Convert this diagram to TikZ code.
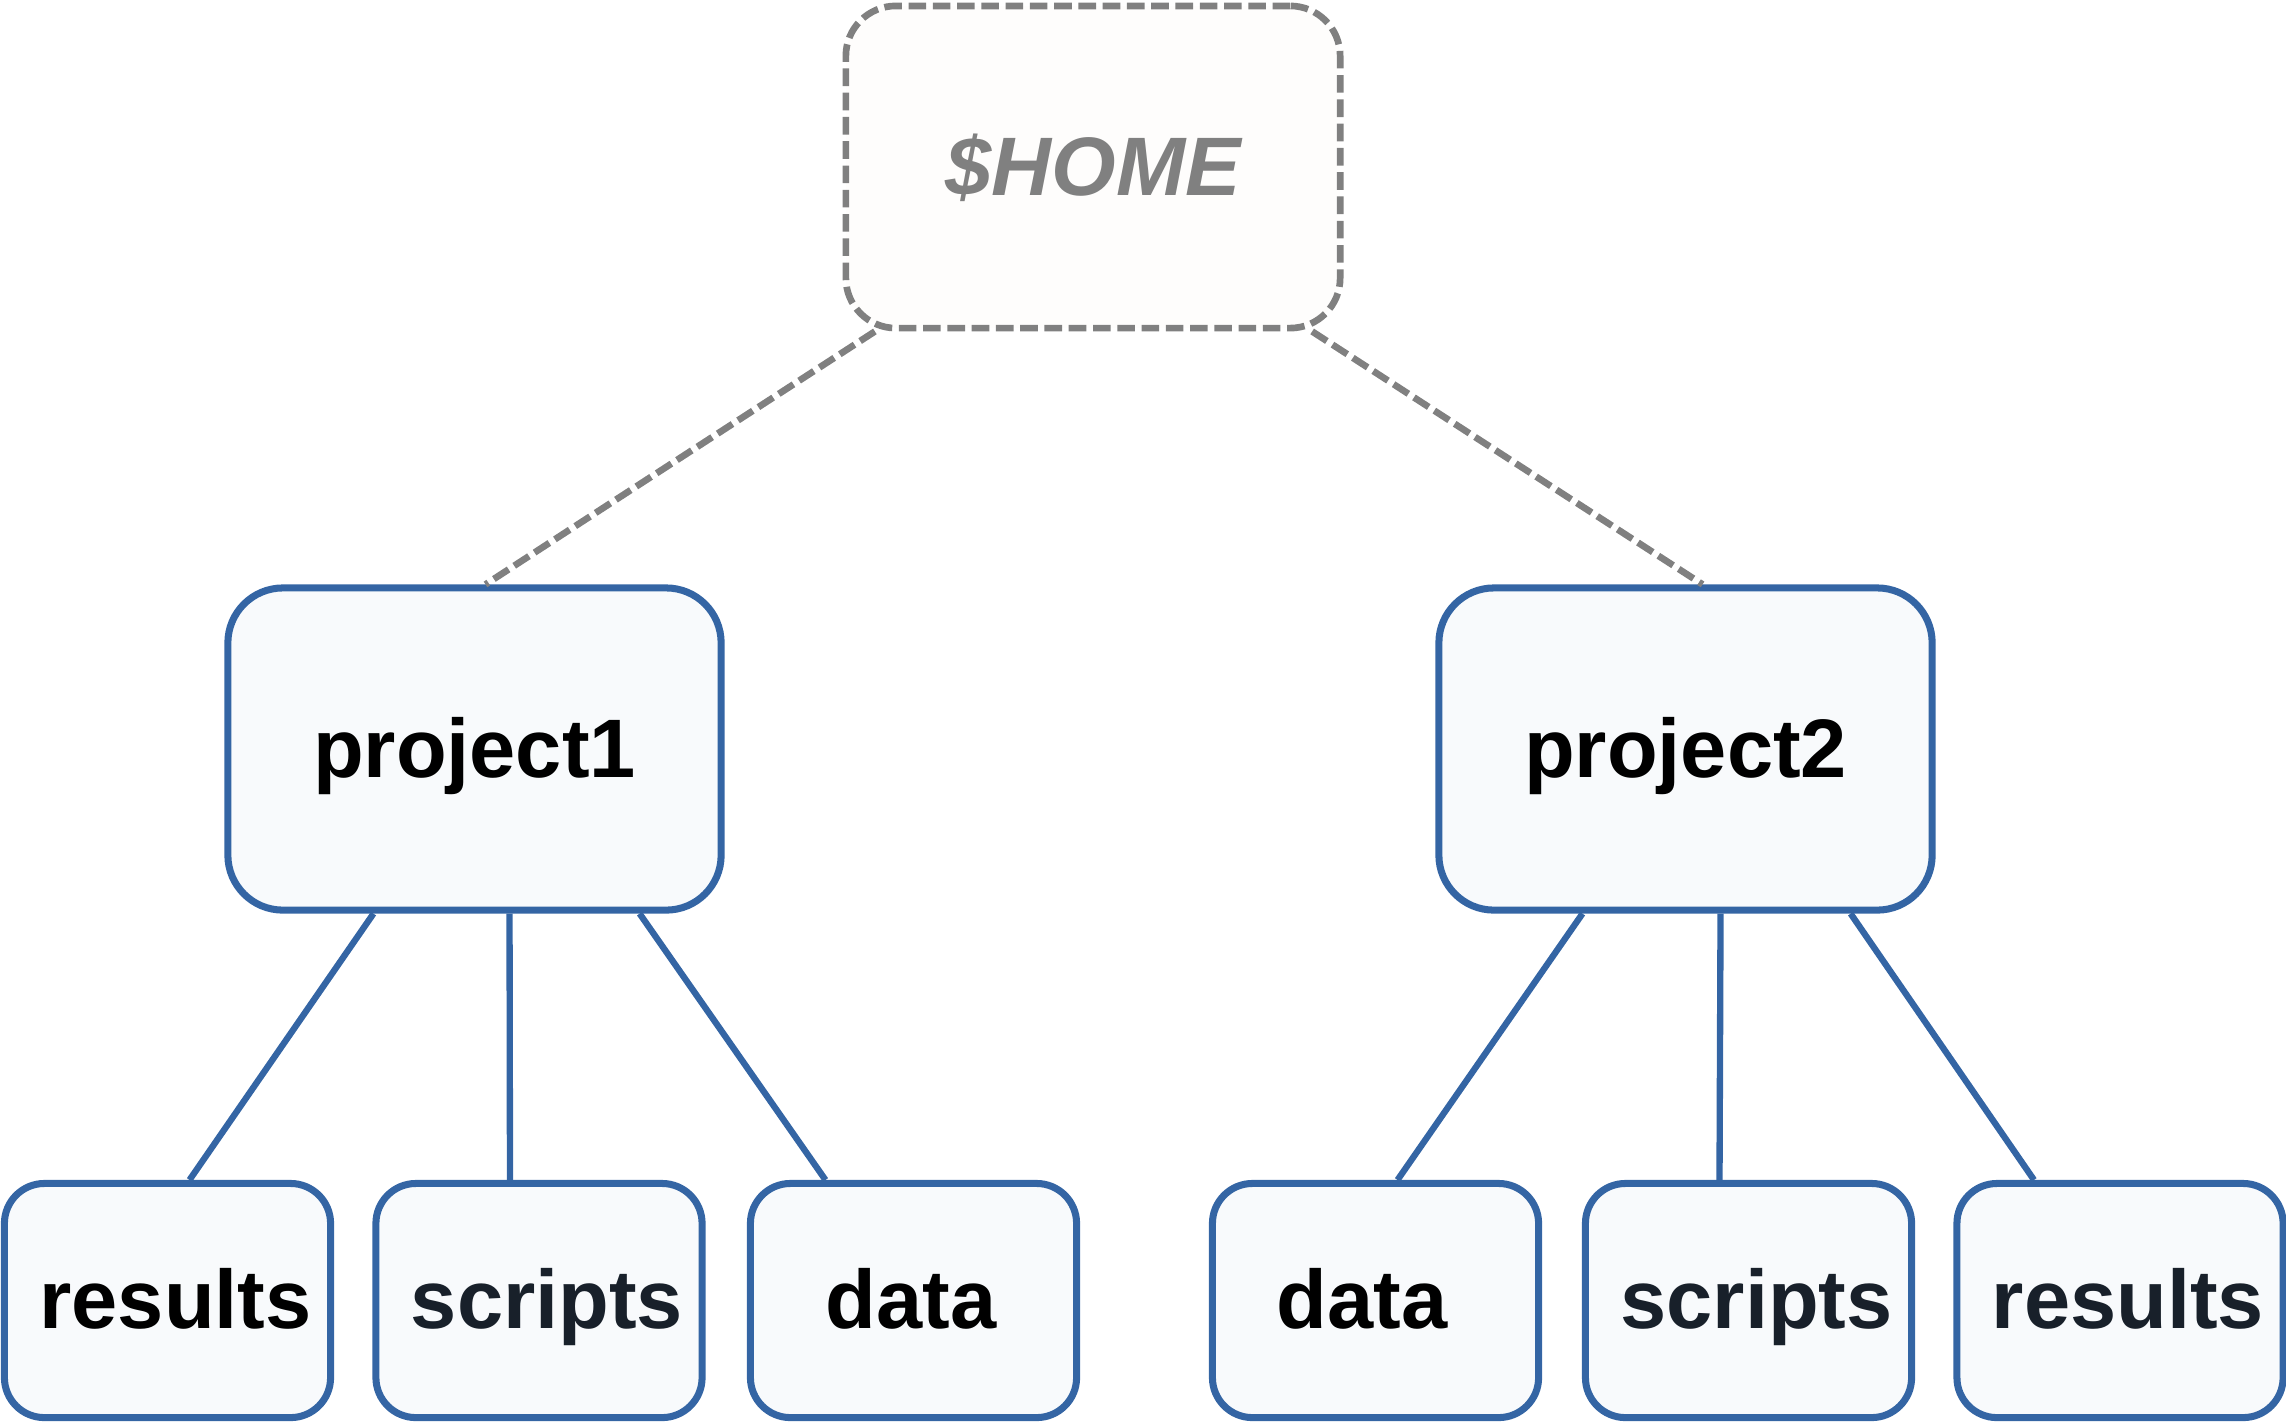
\documentclass[tikz,border=0pt]{standalone}
\usepackage{fontspec}
\setmainfont{Liberation Sans}
\definecolor{dirblue}{HTML}{3465A4}
\definecolor{dirfill}{HTML}{F8FAFC}
\definecolor{homegray}{HTML}{808080}
\definecolor{homefill}{HTML}{FEFDFC}
\definecolor{inkdark}{HTML}{18202A}

\begin{document}
\begin{tikzpicture}[x=0.01cm,y=-0.01cm,
  dirtext/.style={font=\fontsize{23.6}{28}\selectfont\bfseries,
                  text height=0.56cm,text depth=0pt,inner sep=0pt},
  homebox/.style={dirtext,rectangle,draw=homegray,fill=homefill,text=homegray,
                  line width=1.9pt,dash pattern=on 5pt off 1.9pt,
                  rounded corners=0.5cm,minimum width=4.94cm,minimum height=3.22cm,
                  font=\fontsize{23.6}{28}\selectfont\bfseries\itshape},
  projbox/.style={dirtext,rectangle,draw=dirblue,fill=dirfill,line width=2pt,
                  rounded corners=0.55cm,minimum width=4.93cm,minimum height=3.22cm},
  subbox/.style={dirtext,rectangle,draw=dirblue,fill=dirfill,line width=2pt,
                 rounded corners=0.4cm,minimum width=3.26cm,minimum height=2.34cm},
  lnudge/.style={execute at begin node={\kern#1}},
  rnudge/.style={execute at end node={\kern#1}},
  link/.style={draw=dirblue,line width=1.8pt},
  homelink/.style={draw=homegray,line width=1.9pt,dash pattern=on 5pt off 1.9pt}]
  \useasboundingbox (0,0) rectangle (2286,1423);

  % the home directory and the two project folders
  \node[homebox] (home) at (1093,167) {\$HOME};
  \node[projbox] (proj1) at (474.5,749) {project1};
  \node[projbox] (proj2) at (1685.5,749) {project2};
  \draw[homelink] ([xshift=-2.18cm]home.south) -- ([xshift=0.11cm]proj1.north);
  \draw[homelink] ([xshift=2.19cm]home.south) -- ([xshift=0.17cm]proj2.north);

  % sub-folders of each project
  \node[subbox,lnudge=0.16cm] (res1) at (167.5,1300.5) {results};
  \node[subbox,lnudge=0.16cm,text=inkdark] (scr1) at (539,1300.5) {scripts};
  \node[subbox,rnudge=0.05cm] (dat1) at (913.5,1300.5) {data};
  \node[subbox,rnudge=0.27cm] (dat2) at (1375.5,1300.5) {data};
  \node[subbox,lnudge=0.16cm,text=inkdark] (scr2) at (1748.5,1300.5) {scripts};
  \node[subbox,lnudge=0.16cm,text=inkdark] (res2) at (2120,1300.5) {results};

  \foreach \p/\c/\s/\e in {proj1/res1/-1.01/0.22, proj1/scr1/0.35/-0.29,
                            proj1/dat1/1.65/-0.88, proj2/dat2/-1.03/0.22,
                            proj2/scr2/0.35/-0.29, proj2/res2/1.65/-0.86}
    \draw[link] ([xshift=\s cm]\p.south) -- ([xshift=\e cm]\c.north);
\end{tikzpicture}
\end{document}
